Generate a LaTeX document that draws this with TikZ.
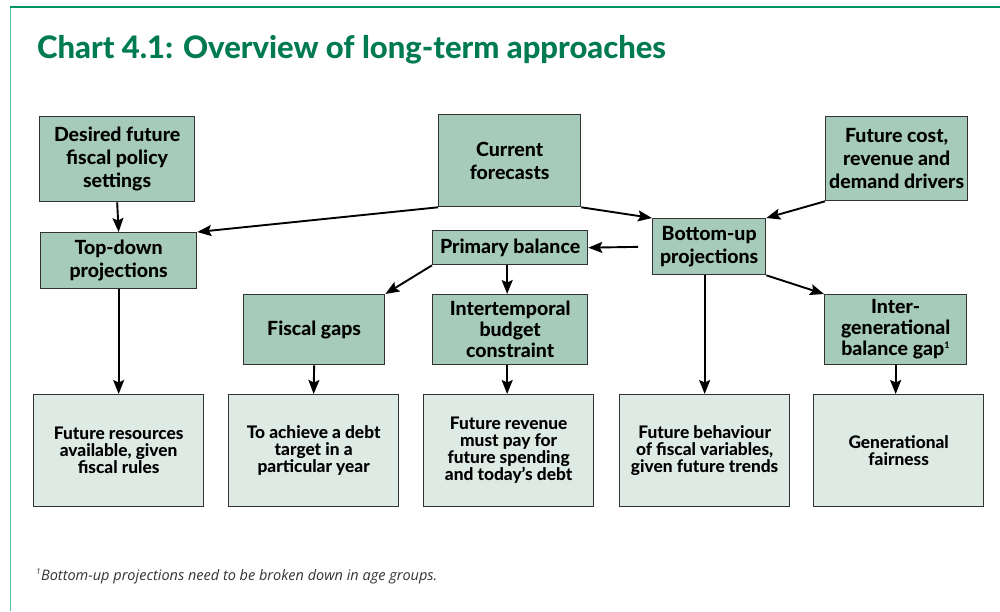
\documentclass[tikz,border=0pt]{standalone}
\usepackage{fontspec}
\setmainfont{Lato}[BoldFont={Lato Heavy}]
\newfontfamily\notefont{Open Sans}
\usetikzlibrary{arrows.meta}

\definecolor{framegreen}{RGB}{0,150,100}
\definecolor{frameteal}{RGB}{90,190,160}
\definecolor{titlegreen}{RGB}{0,122,82}
\definecolor{darkfill}{RGB}{166,203,187}
\definecolor{lightfill}{RGB}{222,235,228}
\definecolor{boxline}{RGB}{50,50,50}

\tikzset{
  box/.style={draw=boxline, line width=1.3pt, align=center, inner sep=2pt,
              anchor=north west, text=black},
  dark/.style={box, fill=darkfill, font=\bfseries\fontsize{19.5}{23}\selectfont},
  darktight/.style={dark, font=\bfseries\fontsize{19.5}{21}\selectfont},
  light/.style={box, fill=lightfill, font=\bfseries\fontsize{17.3}{17}\selectfont,
                minimum width=170pt, minimum height=112pt},
  arr/.style={-{Stealth[length=14pt,width=11pt,inset=2.5pt]}, line width=1.9pt, black}
}

\begin{document}
\begin{tikzpicture}[x=1pt,y=-1pt]
\useasboundingbox (0,0) rectangle (1000,611);

% frame lines
\draw[frameteal, line width=1.6pt] (10.5,6.5) -- (10.5,611);
\draw[framegreen, line width=2pt] (10,6.5) -- (1000,6.5);

% title
\node[anchor=base west, inner sep=0pt, text=titlegreen,
      font=\bfseries\fontsize{31}{40}\selectfont] (title) at (37,58)
      {Chart 4.1: Overview of long-term approaches};

% top row
\node[dark, minimum width=155pt, minimum height=85pt] (des) at (39,116)
  {Desired future\\fiscal policy\\settings};
\node[dark, minimum width=142pt, minimum height=92pt] (cur) at (438,114)
  {Current\\forecasts};
\node[dark, minimum width=142pt, minimum height=84pt] (fc) at (825,116)
  {Future cost,\\revenue and\\demand drivers};

% second row
\node[dark, minimum width=156pt, minimum height=56pt] (td) at (40,232)
  {Top-down\\projections};
\node[dark, minimum width=155pt, minimum height=34pt] (pb) at (432,230)
  {Primary balance};
\node[dark, minimum width=113pt, minimum height=56pt] (bu) at (652,218)
  {Bottom-up\\projections};

% third row
\node[dark, minimum width=141pt, minimum height=70pt] (fg) at (243,294)
  {Fiscal gaps};
\node[darktight, minimum width=155pt, minimum height=70pt] (it) at (432,294)
  {Intertemporal\\budget\\constraint};
\node[darktight, minimum width=142pt, minimum height=70pt] (ig) at (824,294)
  {Inter-\\generational\\balance gap\textsuperscript{\fontsize{9}{9}\selectfont 1}};

% outcome row
\node[light] (fr) at (33,394)
  {Future resources\\available, given\\fiscal rules};
\node[light] (ta) at (228,394)
  {To achieve a debt\\target in a\\particular year};
\node[light] (rv) at (423,394)
  {Future revenue\\must pay for\\future spending\\and today’s debt};
\node[light] (fb) at (619,394)
  {Future behaviour\\of fiscal variables,\\given future trends};
\node[light] (gf) at (813,394)
  {Generational\\fairness};

% connectors
\draw[arr] (des.south) -- (td.north);
\draw[arr] (cur.south west) -- (td.north east);
\draw[arr] (cur.south east) -- (bu.north west);
\draw[arr] (fc.south west) -- (bu.north east);
\draw[arr, shorten <=14pt] (bu.west) -- (pb.east);
\draw[arr] (pb.south west) -- (fg.north east);
\draw[arr] ([xshift=-3pt]pb.south) -- ([xshift=-3pt]it.north);
\draw[arr] (bu.south east) -- (ig.north west);
\draw[arr] (bu.south -| fb.north) -- (fb.north);
\draw[arr] (td.south) -- (td.south |- fr.north);
\draw[arr] (fg.south) -- (ta.north);
\draw[arr] ([xshift=-3pt]it.south) -- ([xshift=-3pt]it.south |- rv.north);
\draw[arr] (ig.south) -- (ig.south |- gf.north);

% footnote
\node[anchor=base west, inner sep=0pt, text=black!80,
      font=\notefont\itshape\fontsize{14.5}{16}\selectfont] (note) at (36,580)
  {\textsuperscript{\fontsize{8}{8}\selectfont 1}Bottom-up projections need to be broken down in age groups.};
\end{tikzpicture}
\end{document}
